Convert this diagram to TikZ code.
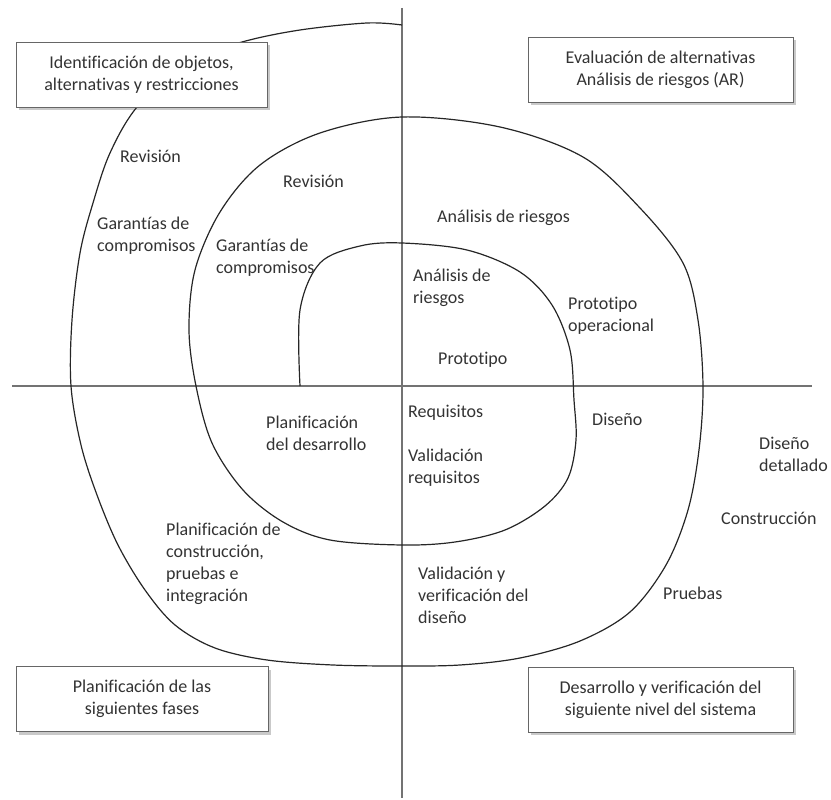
\documentclass[tikz,border=0pt]{standalone}
\usepackage{fontspec}
\setmainfont{Carlito}[Ligatures=CommonOff]
\usetikzlibrary{shadows}
\begin{document}
\begin{tikzpicture}[x=1pt, y=-1pt,
    txt/.style={inner sep=0pt, align=left, anchor=base west, text=black!80,
        font=\fontsize{18}{22}\selectfont},
    box/.style={draw=black!60, fill=white, inner sep=0pt, align=center, text=black!80,
        font=\fontsize{18}{22}\selectfont, minimum height=65pt,
        drop shadow={shadow xshift=3pt, shadow yshift=-3pt, opacity=0.3, fill=black!70}},
    axis/.style={draw=black!55, line width=1.3pt},
    spiral/.style={draw=black!85, line width=1.2pt}]
    \useasboundingbox (0,0) rectangle (831,800);

    \coordinate (N) at (402,8);
    \coordinate (S) at (402,798);
    \coordinate (W) at (12,386);
    \coordinate (E) at (812,386);
    \draw [axis] (N) -- (S);
    \draw [axis] (W) -- (E);

    \draw [spiral] plot [smooth, tension=0.55] coordinates {
        (300,386) (300,310) (320,263) (360,246) (402,243) (467,250) (520,272)
        (552,305) (570,350) (574,400) (576,440) (568,478) (545,506) (505,530)
        (455,542) (402,545) (330,540) (283,522) (243,490) (212,443) (196,386)
        (189,330) (195,270) (220,212) (260,165) (320,133) (402,117) (500,127)
        (583,157) (640,208) (683,263) (698,320) (703,387) (699,450) (688,510)
        (666,565) (630,612) (580,641) (520,658) (460,665) (400,666) (333,665)
        (267,660) (215,648) (175,625) (145,590) (118,545) (97,495) (81,445)
        (71,386) (72,320) (80,253) (93,203) (110,153) (137,107) (185,62)
        (242,42) (300,30) (367,23) (402,25)};

    \node [box, minimum width=251pt] (ID) at (141.5,74.5) {Identificación de objetos,\\alternativas y restricciones};
    \node [box, minimum width=265pt] (EV) at (660.5,69.5) {Evaluación de alternativas\\Análisis de riesgos (AR)};
    \node [box, minimum width=252pt] (PL) at (142,699) {Planificación de las\\siguientes fases};
    \node [box, minimum width=265pt] (DV) at (660.5,699.5) {Desarrollo y verificación del\\siguiente nivel del sistema};

    \node [txt] (Rev1) at (120,162) {Revisión};
    \node [txt] (Gar1) at (97,251) {Garantías de\\compromisos};
    \node [txt] (Rev2) at (283,187) {Revisión};
    \node [txt] (Gar2) at (216,273) {Garantías de\\compromisos};

    \node [txt] (AR2) at (437,222) {Análisis de riesgos};
    \node [txt] (AR1) at (413,303) {Análisis de\\riesgos};
    \node [txt] (PO) at (568,331) {Prototipo\\operacional};
    \node [txt] (PR) at (438,364) {Prototipo};

    \node [txt] (PD) at (266,450) {Planificación\\del desarrollo};
    \node [txt] (RQ) at (408,417) {Requisitos};
    \node [txt] (VR) at (408,483) {Validación\\requisitos};
    \node [txt] (DI) at (592,425) {Diseño};
    \node [txt] (DD) at (759,471) {Diseño\\detallado};
    \node [txt] (CO) at (721,524) {Construcción};
    \node [txt] (PB) at (663,599) {Pruebas};

    \node [txt] (PC) at (166,601) {Planificación de\\construcción,\\pruebas e\\integración};
    \node [txt] (VV) at (418,623) {Validación y\\verificación del\\diseño};
\end{tikzpicture}
\end{document}
